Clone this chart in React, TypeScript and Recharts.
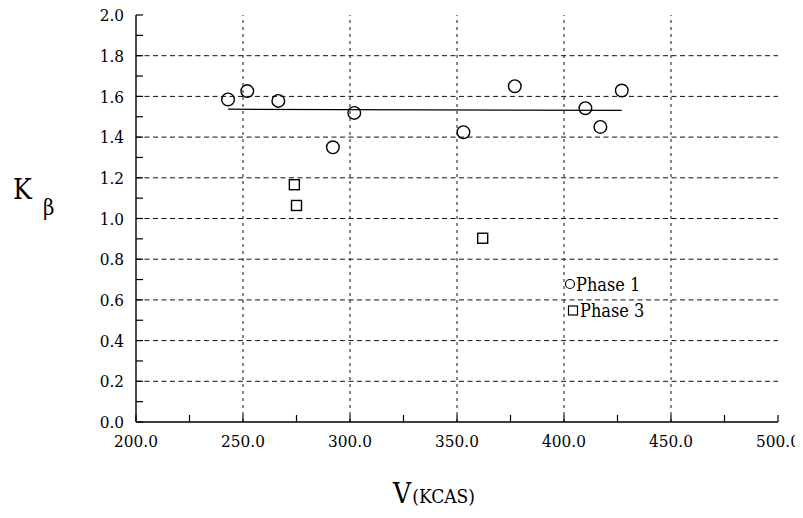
import * as React from "react";
import {
  ScatterChart,
  Scatter,
  XAxis,
  YAxis,
  ReferenceLine,
  Legend,
  Label,
} from "recharts";

// Flight test data: airspeed (KCAS) vs K_beta
const phase1Speed = [243, 252, 266.5, 292, 302, 353, 377, 410, 417, 427];
const phase1K = [1.585, 1.626, 1.578, 1.35, 1.519, 1.424, 1.65, 1.542, 1.45, 1.629];
const phase3Speed = [274, 275, 362];
const phase3K = [1.166, 1.064, 0.903];
// least-squares fit through the Phase 1 points
const fitSpeed = [243, 427];
const fitK = [1.537, 1.531];

const xTicks = [200, 225, 250, 275, 300, 325, 350, 375, 400, 425, 450, 475, 500];
const yTicks = [
  0, 0.1, 0.2, 0.3, 0.4, 0.5, 0.6, 0.7, 0.8, 0.9, 1.0, 1.1, 1.2, 1.3, 1.4, 1.5,
  1.6, 1.7, 1.8, 1.9, 2.0,
];
const xGrid = [250, 300, 350, 400, 450];
const yGrid = [0.2, 0.4, 0.6, 0.8, 1.0, 1.2, 1.4, 1.6, 1.8];

const seriesNames = ["Phase 1", "Phase 3"];

const FONT = "DejaVu Serif Condensed, DejaVu Serif";
const TICK_LEN = 7;

const toPoints = (xs: number[], ys: number[]) =>
  xs.map((v, i) => ({ v, k: ys[i] }));

const phase1 = toPoints(phase1Speed, phase1K);
const phase3 = toPoints(phase3Speed, phase3K);
const fit = toPoints(fitSpeed, fitK);

const isMajorX = (v: number) => v % 50 === 0;
const isMajorY = (v: number) => Math.round(v * 10) % 2 === 0;

function BottomTick(props: any) {
  const { x, y, payload } = props;
  const v = payload.value as number;
  return (
    <g>
      <line x1={x} x2={x} y1={y} y2={y - TICK_LEN} stroke="#000" strokeWidth={1.2} />
      {isMajorX(v) && (
        <text x={x} y={y + 25} textAnchor="middle" fontSize={17} fontFamily={FONT} fill="#000">
          {v.toFixed(1)}
        </text>
      )}
    </g>
  );
}

function TopTick(props: any) {
  const { x, y } = props;
  return <line x1={x} x2={x} y1={y} y2={y + TICK_LEN} stroke="#000" strokeWidth={1.2} />;
}

function LeftTick(props: any) {
  const { x, y, payload } = props;
  const v = payload.value as number;
  return (
    <g>
      <line x1={x} x2={x + TICK_LEN} y1={y} y2={y} stroke="#000" strokeWidth={1.2} />
      {isMajorY(v) && (
        <text x={x - 12} y={y} dy="0.36em" textAnchor="end" fontSize={17} fontFamily={FONT} fill="#000">
          {v.toFixed(1)}
        </text>
      )}
    </g>
  );
}

function RightTick(props: any) {
  const { x, y } = props;
  return <line x1={x} x2={x - TICK_LEN} y1={y} y2={y} stroke="#000" strokeWidth={1.2} />;
}

const CircleMark = (props: any) => (
  <circle cx={props.cx} cy={props.cy} r={6.3} fill="none" stroke="#000" strokeWidth={1.4} />
);

const SquareMark = (props: any) => (
  <rect x={props.cx - 5} y={props.cy - 5} width={10} height={10} fill="none" stroke="#000" strokeWidth={1.4} />
);

function XTitle(props: any) {
  const { x, y, width } = props.viewBox;
  return (
    <text x={x + width / 2 - 23} y={y + 81} textAnchor="middle" fontFamily={FONT} fill="#000">
      <tspan fontSize={28}>V</tspan>
      <tspan fontSize={19} dx={1}>(KCAS)</tspan>
    </text>
  );
}

function YTitle(props: any) {
  const { y, height } = props.viewBox;
  const mid = y + height / 2;
  return (
    <text fontFamily={FONT} fill="#000">
      <tspan x={13} y={mid - 19.5} fontSize={28}>K</tspan>
      <tspan x={43} y={mid - 3.5} fontSize={22}>β</tspan>
    </text>
  );
}

function LegendBox() {
  return (
    <svg width={120} height={52} style={{ display: "block" }}>
      <circle cx={9} cy={10} r={4.5} fill="none" stroke="#000" strokeWidth={1.2} />
      <text x={15} y={17} fontSize={18} fontFamily={FONT} fill="#000">
        {seriesNames[0]}
      </text>
      <rect x={7.5} y={32} width={9} height={9} fill="none" stroke="#000" strokeWidth={1.2} />
      <text x={19} y={43} fontSize={18} fontFamily={FONT} fill="#000">
        {seriesNames[1]}
      </text>
    </svg>
  );
}

export default function App() {
  return (
    <div style={{ margin: -8, width: 803, height: 518, background: "#fff" }}>
      <ScatterChart
        width={803}
        height={518}
        margin={{ top: 15, right: 25, bottom: 66, left: 0 }}
      >
        <XAxis
          type="number"
          dataKey="v"
          domain={[200, 500]}
          ticks={xTicks}
          interval={0}
          allowDataOverflow
          height={30}
          tickSize={0}
          tickMargin={0}
          tickLine={false}
          tick={<BottomTick />}
          axisLine={{ stroke: "#000", strokeWidth: 1.4 }}
        >
          <Label content={XTitle} />
        </XAxis>
        <XAxis
          xAxisId="top"
          orientation="top"
          type="number"
          domain={[200, 500]}
          ticks={xTicks}
          interval={0}
          allowDataOverflow
          height={0}
          tickSize={0}
          tickMargin={0}
          tickLine={false}
          tick={<TopTick />}
          axisLine={{ stroke: "#000", strokeWidth: 1.4 }}
        />
        <YAxis
          type="number"
          dataKey="k"
          domain={[0, 2]}
          ticks={yTicks}
          interval={0}
          allowDataOverflow
          width={136}
          tickSize={0}
          tickMargin={0}
          tickLine={false}
          tick={<LeftTick />}
          axisLine={{ stroke: "#000", strokeWidth: 1.4 }}
        >
          <Label content={YTitle} />
        </YAxis>
        <YAxis
          yAxisId="right"
          orientation="right"
          type="number"
          domain={[0, 2]}
          ticks={yTicks}
          interval={0}
          allowDataOverflow
          width={0}
          tickSize={0}
          tickMargin={0}
          tickLine={false}
          tick={<RightTick />}
          axisLine={{ stroke: "#000", strokeWidth: 1.4 }}
        />

        {xGrid.map((v) => (
          <ReferenceLine key={`gx${v}`} x={v} stroke="#111" strokeWidth={1} strokeDasharray="3 4" />
        ))}
        {yGrid.map((v) => (
          <ReferenceLine key={`gy${v}`} y={v} stroke="#111" strokeWidth={1} strokeDasharray="5 3.5" />
        ))}

        <Scatter
          name="fit"
          data={fit}
          line={{ stroke: "#000", strokeWidth: 1.2 }}
          shape={() => <g />}
          legendType="none"
          isAnimationActive={false}
        />
        <Scatter name={seriesNames[0]} data={phase1} shape={CircleMark} isAnimationActive={false} />
        <Scatter name={seriesNames[1]} data={phase3} shape={SquareMark} isAnimationActive={false} />

        <Legend
          layout="vertical"
          align="center"
          verticalAlign="middle"
          content={() => <LegendBox />}
          wrapperStyle={{ position: "absolute", left: 561, top: 274, width: 120, height: 52 }}
        />
      </ScatterChart>
    </div>
  );
}
